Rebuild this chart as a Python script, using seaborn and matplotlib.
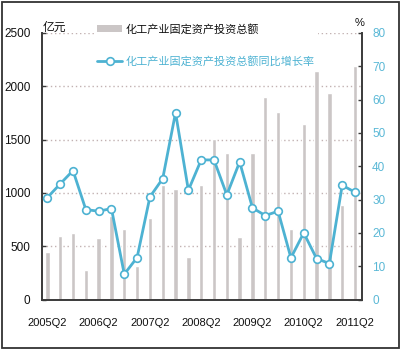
import numpy as np
import matplotlib
matplotlib.use("Agg")
import matplotlib.pyplot as plt
from matplotlib.patches import Patch, Rectangle
from matplotlib.lines import Line2D
import seaborn as sns

quarters = ['2005Q2', '2005Q3', '2005Q4', '2006Q1', '2006Q2', '2006Q3', '2006Q4',
            '2007Q1', '2007Q2', '2007Q3', '2007Q4', '2008Q1', '2008Q2', '2008Q3',
            '2008Q4', '2009Q1', '2009Q2', '2009Q3', '2009Q4', '2010Q1', '2010Q2',
            '2010Q3', '2010Q4', '2011Q1', '2011Q2']
investment = [450, 600, 620, 275, 580, 780, 660, 310, 760, 1070, 1040, 400, 1070,
              1510, 1370, 590, 1370, 1900, 1760, 660, 1650, 2140, 1940, 890, 2190]
growth = [30.6, 34.7, 38.7, 27.0, 26.5, 27.3, 7.6, 12.6, 30.8, 36.3, 56.1, 32.8,
          41.9, 41.9, 31.4, 41.3, 27.5, 25.2, 26.5, 12.5, 20.0, 12.3, 10.8, 34.3, 32.2]
left_ticks = [0, 500, 1000, 1500, 2000, 2500]
right_ticks = [0, 10, 20, 30, 40, 50, 60, 70, 80]
labels = ['化工产业固定资产投资总额', '化工产业固定资产投资总额同比增长率']

sns.set_style('white')
plt.rcParams['font.family'] = ['Noto Sans CJK SC', 'DejaVu Sans']
num_font = ['Liberation Sans', 'DejaVu Sans']

bar_color = '#cbc6c6'
line_color = '#4db2d2'
tick_blue = '#5ab8d6'
spine_color = '#3a3a3a'

fig = plt.figure(figsize=(4, 3.51), dpi=100)
ax = fig.add_axes([0.1043, 0.1467, 0.8015, 0.7593])
sns.barplot(x=quarters, y=investment, ax=ax, color=bar_color, width=0.34,
            saturation=1, zorder=2)
ax2 = ax.twinx()
sns.lineplot(x=np.arange(len(quarters)), y=growth, ax=ax2, color=line_color,
             linewidth=2, marker='o', markersize=5.5, markerfacecolor='white',
             markeredgecolor=line_color, markeredgewidth=1.2, zorder=3)

ax.set_xlim(-0.44, 24.57)
ax.set_ylim(0, 2500)
ax2.set_ylim(0, 80)
ax.set_yticks(left_ticks)
ax2.set_yticks(right_ticks)
ax.set_xticks(range(0, len(quarters), 4))
ax.set_xticklabels(quarters[::4])
ax.set_xticks(np.arange(1.5, 24, 2), minor=True)
ax.set_xlabel('')
ax.set_ylabel('')
ax2.set_xlabel('')
ax2.set_ylabel('')

ax.set_axisbelow(True)
ax.yaxis.grid(True, color='#c2b2b2', linestyle=(0, (1, 2)), linewidth=1)
ax.xaxis.grid(False)
ax2.grid(False)

for a in (ax, ax2):
    a.spines['top'].set_visible(False)
ax.spines['right'].set_visible(False)
ax2.spines['left'].set_visible(False)
ax2.spines['bottom'].set_visible(False)
for sp in [ax.spines['left'], ax.spines['bottom'], ax2.spines['right']]:
    sp.set_color(spine_color)
    sp.set_linewidth(1.4)

ax.tick_params(axis='x', which='major', length=0, pad=13.5, labelsize=8, colors='#111111')
ax.tick_params(axis='x', which='minor', direction='in', length=3, width=1, color=spine_color)
ax.tick_params(axis='y', direction='in', length=3, width=1, color=spine_color,
               pad=8, labelsize=8.5, labelcolor='#111111', left=True)
ax2.tick_params(axis='y', direction='in', length=3, width=1, color=spine_color,
                pad=7, labelsize=8.5, labelcolor=tick_blue, right=True)
for lab in ax.get_xticklabels() + ax.get_yticklabels() + ax2.get_yticklabels():
    lab.set_fontfamily(num_font)

fig.text(43 / 400, 1 - 27 / 351, '亿元', ha='left', va='center', fontsize=8.5, color='#111111')
fig.text(360 / 400, 1 - 23 / 351, '%', ha='center', va='center', fontsize=8,
         color='#111111', family=num_font)

handles = [Patch(facecolor=bar_color, edgecolor='none'),
           Line2D([], [], color=line_color, lw=2, marker='o', mfc='white',
                  mec=line_color, mew=1.2, ms=5.5)]
fig.legend(handles, labels, loc='upper left', bbox_to_anchor=(0.234, 0.942),
           frameon=True, facecolor='white', edgecolor='none', framealpha=1,
           fontsize=8, handlelength=2.3, handleheight=0.55, handletextpad=0.25,
           labelspacing=1.9, borderpad=0.3, borderaxespad=0,
           labelcolor=['#111111', line_color])

fig.patches.append(Rectangle((0.00425, 0.00855), 0.992, 0.9866, transform=fig.transFigure,
                             fill=False, edgecolor='#333333', linewidth=1.3))

fig.savefig('out.png', dpi=100)
